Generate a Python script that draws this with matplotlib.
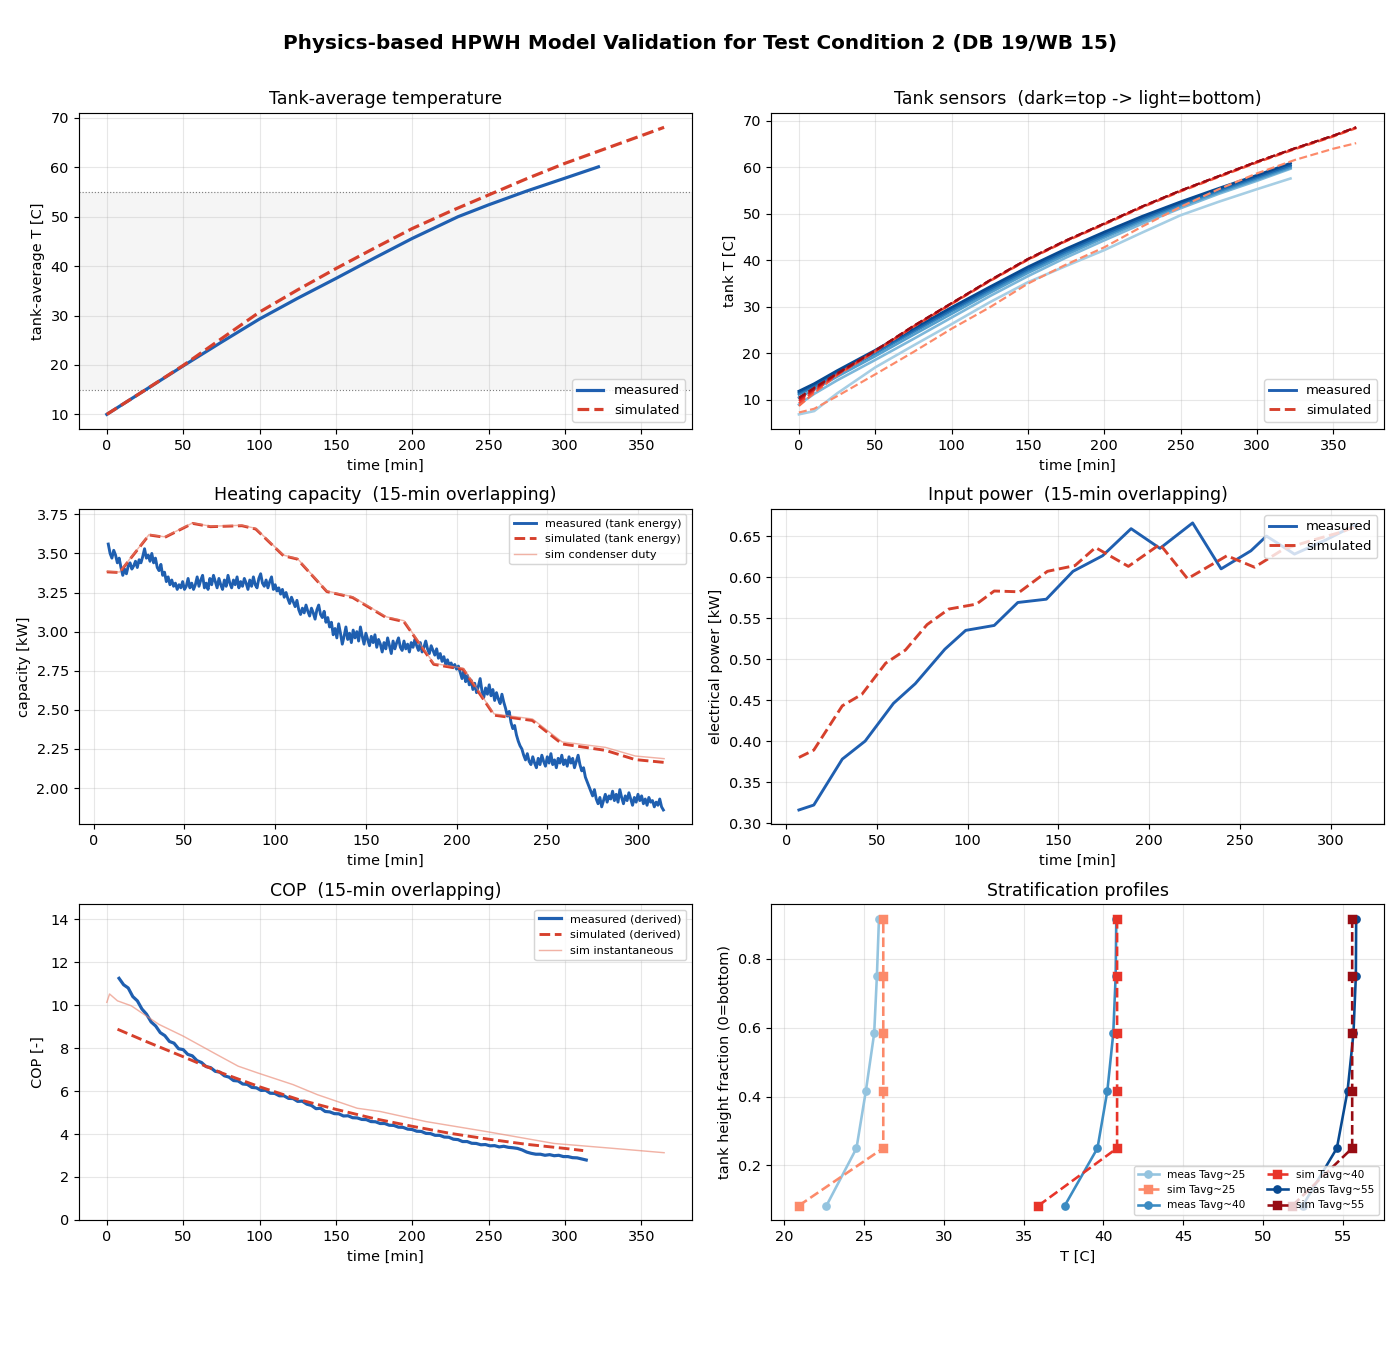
import numpy as np
import matplotlib
matplotlib.use("Agg")
import matplotlib.pyplot as plt
from matplotlib.lines import Line2D

MEAS = "#1f5fb0"
SIM = "#d6402c"

# --- tank-average temperature ---
avg_t_meas = [0, 25, 50, 75, 100, 125, 150, 175, 200, 230, 250, 275, 300, 322]
avg_meas = [10.0, 14.9, 19.8, 24.6, 29.3, 33.5, 37.5, 41.6, 45.6, 50.0, 52.4, 55.2, 57.8, 60.1]
avg_t_sim = [0, 25, 50, 75, 100, 125, 150, 175, 200, 225, 250, 275, 300, 325, 350, 365]
avg_sim = [10.0, 14.9, 19.9, 25.3, 30.7, 35.2, 39.5, 43.6, 47.6, 51.1, 54.4, 57.7, 60.8, 63.6, 66.4, 68.1]

# --- tank sensors (top -> bottom) ---
sens_t_meas = [0, 10, 25, 50, 75, 100, 125, 150, 175, 200, 225, 250, 275, 300, 322]
sens_meas = [
    [11.9, 13.5, 16.3, 20.7, 25.4, 29.9, 34.3, 38.6, 42.5, 46.1, 49.5, 52.6, 55.5, 58.3, 60.9],
    [11.6, 13.2, 16.0, 20.4, 25.0, 29.5, 33.9, 38.2, 42.1, 45.7, 49.1, 52.3, 55.2, 58.0, 60.5],
    [11.2, 12.8, 15.6, 20.0, 24.6, 29.1, 33.5, 37.8, 41.7, 45.3, 48.8, 52.0, 54.9, 57.7, 60.2],
    [10.5, 12.2, 15.0, 19.4, 24.0, 28.5, 33.0, 37.3, 41.2, 44.9, 48.4, 51.6, 54.6, 57.4, 59.9],
    [9.0, 11.3, 14.2, 18.6, 23.1, 27.7, 32.3, 36.6, 40.6, 44.3, 47.9, 51.2, 54.3, 57.1, 59.7],
    [6.9, 7.6, 11.4, 17.0, 21.7, 26.3, 31.0, 35.3, 38.8, 42.2, 46.0, 49.7, 52.6, 55.3, 57.6],
]
sens_t_sim = [0, 10, 25, 50, 75, 100, 125, 150, 175, 200, 225, 250, 275, 300, 325, 350, 365]
sens_sim = [
    [10.5, 12.6, 15.7, 20.6, 25.9, 30.8, 35.7, 40.3, 44.3, 47.9, 51.6, 55.0, 58.1, 61.2, 64.1, 66.8, 68.6],
    [10.2, 12.4, 15.6, 20.6, 25.9, 30.8, 35.7, 40.3, 44.3, 47.9, 51.6, 55.0, 58.1, 61.2, 64.1, 66.8, 68.6],
    [9.8, 12.2, 15.5, 20.5, 25.8, 30.7, 35.6, 40.2, 44.2, 47.9, 51.6, 55.0, 58.1, 61.2, 64.1, 66.8, 68.6],
    [9.3, 11.9, 15.4, 20.5, 25.8, 30.7, 35.6, 40.2, 44.2, 47.8, 51.5, 54.9, 58.0, 61.1, 64.0, 66.7, 68.5],
    [8.7, 11.5, 15.3, 20.4, 25.7, 30.6, 35.5, 40.1, 44.1, 47.7, 51.4, 54.8, 57.9, 61.0, 63.9, 66.6, 68.4],
    [7.3, 8.1, 10.8, 15.5, 20.3, 25.3, 29.9, 35.0, 39.1, 42.8, 47.3, 51.5, 55.3, 58.7, 61.6, 64.0, 65.2],
]

# --- heating capacity (1-min samples, 8..314 min) ---
cap_t_meas = list(range(8, 315))
cap_meas = [
    3.56, 3.50, 3.47, 3.52, 3.49, 3.44, 3.47, 3.41, 3.36, 3.40,
    3.37, 3.42, 3.44, 3.40, 3.42, 3.45, 3.41, 3.46, 3.44, 3.48,
    3.53, 3.47, 3.49, 3.45, 3.50, 3.44, 3.47, 3.41, 3.39, 3.43,
    3.36, 3.38, 3.32, 3.35, 3.30, 3.33, 3.29, 3.31, 3.27, 3.30,
    3.28, 3.32, 3.27, 3.29, 3.34, 3.28, 3.31, 3.27, 3.30, 3.35,
    3.29, 3.33, 3.36, 3.28, 3.31, 3.27, 3.34, 3.30, 3.36, 3.32,
    3.28, 3.34, 3.30, 3.27, 3.33, 3.29, 3.36, 3.31, 3.28, 3.33,
    3.30, 3.35, 3.28, 3.32, 3.29, 3.34, 3.31, 3.27, 3.33, 3.29,
    3.35, 3.30, 3.28, 3.34, 3.37, 3.31, 3.29, 3.33, 3.28, 3.32,
    3.35, 3.27, 3.30, 3.26, 3.28, 3.24, 3.27, 3.22, 3.25, 3.21,
    3.18, 3.22, 3.19, 3.16, 3.20, 3.14, 3.11, 3.15, 3.12, 3.17,
    3.13, 3.10, 3.15, 3.12, 3.08, 3.14, 3.17, 3.11, 3.09, 3.13,
    3.06, 3.09, 3.03, 3.06, 2.98, 3.02, 2.96, 3.05, 2.99, 2.92,
    2.97, 3.03, 2.95, 2.99, 2.93, 3.01, 2.96, 3.00, 2.94, 3.03,
    2.97, 2.92, 2.99, 2.95, 2.91, 2.97, 2.93, 2.98, 2.90, 2.95,
    2.92, 2.87, 2.93, 2.89, 2.96, 2.91, 2.86, 2.94, 2.89, 2.93,
    2.96, 2.90, 2.88, 2.94, 2.89, 2.92, 2.87, 2.93, 2.90, 2.95,
    2.91, 2.88, 2.93, 2.87, 2.90, 2.94, 2.89, 2.86, 2.91, 2.88,
    2.85, 2.89, 2.83, 2.86, 2.81, 2.84, 2.79, 2.82, 2.78, 2.80,
    2.77, 2.79, 2.76, 2.78, 2.74, 2.70, 2.75, 2.68, 2.72, 2.66,
    2.69, 2.63, 2.67, 2.61, 2.65, 2.70, 2.62, 2.58, 2.64, 2.60,
    2.66, 2.59, 2.63, 2.56, 2.61, 2.57, 2.54, 2.60, 2.55, 2.51,
    2.46, 2.49, 2.42, 2.38, 2.40, 2.34, 2.30, 2.27, 2.25, 2.21,
    2.18, 2.22, 2.17, 2.15, 2.20, 2.16, 2.13, 2.19, 2.15, 2.21,
    2.17, 2.14, 2.20, 2.16, 2.22, 2.15, 2.18, 2.13, 2.19, 2.16,
    2.21, 2.15, 2.18, 2.14, 2.20, 2.16, 2.19, 2.13, 2.17, 2.21,
    2.15, 2.11, 2.13, 2.07, 2.04, 2.01, 1.98, 1.95, 1.99, 1.93,
    1.90, 1.94, 1.88, 1.92, 1.96, 1.91, 1.95, 1.93, 1.98, 1.92,
    1.96, 1.91, 1.99, 1.94, 1.90, 1.95, 1.92, 1.97, 1.93, 1.89,
    1.94, 1.91, 1.96, 1.92, 1.95, 1.90, 1.93, 1.89, 1.94, 1.91,
    1.92, 1.88, 1.91, 1.89, 1.93, 1.88, 1.86,
]
cap_t_sim = [7.2, 14.2, 30.5, 39.2, 54.5, 64.3, 81.7, 89.3, 104.6, 112.2, 128.5, 142.7,
             161.2, 171.0, 187.4, 203.7, 220.7, 241.8, 258.2, 282.1, 298.5, 314.4]
cap_sim = [3.382, 3.378, 3.618, 3.603, 3.692, 3.671, 3.677, 3.656, 3.485, 3.464, 3.256, 3.218,
           3.090, 3.064, 2.791, 2.759, 2.466, 2.432, 2.282, 2.241, 2.182, 2.164]
cap_cond = [3.385, 3.381, 3.621, 3.606, 3.695, 3.674, 3.680, 3.660, 3.489, 3.468, 3.260, 3.223,
            3.095, 3.070, 2.797, 2.766, 2.474, 2.442, 2.295, 2.260, 2.205, 2.188]

# --- input power ---
pow_t_meas = [7.0, 15.2, 30.9, 43.5, 59.1, 71.1, 87.4, 98.9, 114.6, 127.6, 143.3, 158.0,
              174.3, 190.0, 205.9, 223.9, 239.6, 256.0, 264.6, 280.0, 297.0, 314.0]
pow_meas = [0.316, 0.322, 0.378, 0.400, 0.446, 0.470, 0.512, 0.535, 0.541, 0.569, 0.573, 0.607,
            0.626, 0.659, 0.635, 0.666, 0.610, 0.632, 0.650, 0.628, 0.645, 0.664]
pow_t_sim = [7.0, 15.2, 30.9, 41.7, 54.8, 65.7, 77.6, 89.6, 104.8, 114.6, 128.7, 143.9,
             159.1, 170.4, 188.5, 205.9, 221.1, 242.8, 258.0, 274.0, 290.0, 306.0, 314.0]
pow_sim = [0.380, 0.389, 0.443, 0.457, 0.495, 0.511, 0.542, 0.561, 0.567, 0.583, 0.582, 0.607,
           0.614, 0.636, 0.613, 0.640, 0.598, 0.626, 0.612, 0.634, 0.645, 0.655, 0.662]

# --- COP ---
cop_t_meas = list(range(8, 315, 3))
cop_meas = [
    11.25, 10.95, 10.80, 10.40, 10.20, 9.82, 9.58, 9.22, 9.03, 8.72,
    8.58, 8.31, 8.23, 7.97, 7.93, 7.71, 7.64, 7.42, 7.33, 7.14,
    7.09, 6.92, 6.88, 6.71, 6.65, 6.49, 6.47, 6.33, 6.31, 6.17,
    6.15, 6.03, 6.04, 5.90, 5.89, 5.78, 5.78, 5.66, 5.65, 5.52,
    5.53, 5.39, 5.33, 5.18, 5.20, 5.05, 5.03, 4.95, 4.94, 4.84,
    4.85, 4.76, 4.75, 4.68, 4.67, 4.58, 4.57, 4.49, 4.49, 4.41,
    4.40, 4.32, 4.31, 4.23, 4.21, 4.13, 4.12, 4.03, 4.02, 3.94,
    3.94, 3.86, 3.85, 3.76, 3.74, 3.65, 3.65, 3.57, 3.56, 3.50,
    3.51, 3.45, 3.46, 3.40, 3.43, 3.38, 3.36, 3.33, 3.26, 3.16,
    3.10, 3.06, 3.06, 3.01, 3.04, 2.99, 3.01, 2.95, 2.95, 2.90,
    2.89, 2.84, 2.79,
]
cop_t_sim = [7, 25, 50, 75, 100, 125, 150, 175, 200, 225, 250, 275, 300, 312]
cop_sim = [8.88, 8.33, 7.60, 6.85, 6.20, 5.62, 5.15, 4.72, 4.36, 4.03, 3.76, 3.52, 3.33, 3.23]
cop_t_inst = [0, 1.8, 7, 16, 34, 50, 72, 86, 99, 122, 138, 164, 179, 209, 249, 293, 332, 365]
cop_inst = [10.13, 10.52, 10.20, 9.97, 9.11, 8.56, 7.70, 7.16, 6.84, 6.30, 5.83, 5.20, 5.05,
            4.58, 4.11, 3.56, 3.33, 3.13]

# --- stratification profiles ---
heights = [1/12, 3/12, 5/12, 7/12, 9/12, 11/12]
prof_labels = ["25", "40", "55"]
prof_meas = [
    [22.64, 24.52, 25.11, 25.63, 25.80, 25.93],
    [37.58, 39.63, 40.25, 40.62, 40.77, 40.81],
    [52.50, 54.64, 55.31, 55.68, 55.83, 55.85],
]
prof_sim = [
    [20.91, 26.20, 26.20, 26.20, 26.20, 26.20],
    [35.93, 40.86, 40.86, 40.86, 40.86, 40.86],
    [51.85, 55.60, 55.60, 55.60, 55.60, 55.60],
]

fig, axs = plt.subplots(3, 2, figsize=(1400 / 104, 1348 / 104), dpi=104)
fig.subplots_adjust(left=0.0564, right=0.9886, top=0.9162, bottom=0.095,
                    wspace=0.129, hspace=0.253)
fig.suptitle("Physics-based HPWH Model Validation for Test Condition 2 (DB 19/WB 15)",
             fontsize=13.85, fontweight="bold", y=0.975)

# 1
ax = axs[0, 0]
ax.axhspan(15, 55, color="grey", alpha=0.08, lw=0)
ax.axhline(15, color="grey", ls=":", lw=0.8)
ax.axhline(55, color="grey", ls=":", lw=0.8)
ax.plot(avg_t_meas, avg_meas, color=MEAS, lw=2.2, label="measured")
ax.plot(avg_t_sim, avg_sim, color=SIM, lw=2.2, ls="--", label="simulated")
ax.set_title("Tank-average temperature")
ax.set_xlabel("time [min]")
ax.set_ylabel("tank-average T [C]")
ax.legend(loc="lower right", fontsize=9.1)
ax.grid(True, alpha=0.3)

# 2
ax = axs[0, 1]
blues = plt.cm.Blues(np.linspace(0.9, 0.35, 6))
reds = plt.cm.Reds(np.linspace(0.9, 0.4, 6))
for i in reversed(range(6)):
    ax.plot(sens_t_meas, sens_meas[i], color=blues[i], lw=1.8)
for i in reversed(range(6)):
    ax.plot(sens_t_sim, sens_sim[i], color=reds[i], lw=1.5, ls="--")
handles = [Line2D([0], [0], color=MEAS, lw=2), Line2D([0], [0], color=SIM, lw=2, ls="--")]
ax.legend(handles, ["measured", "simulated"], loc="lower right", fontsize=9.1)
ax.set_title("Tank sensors  (dark=top -> light=bottom)")
ax.set_xlabel("time [min]")
ax.set_ylabel("tank T [C]")
ax.grid(True, alpha=0.3)

# 3
ax = axs[1, 0]
ax.plot(cap_t_meas, cap_meas, color=MEAS, lw=2, label="measured (tank energy)")
ax.plot(cap_t_sim, cap_sim, color=SIM, lw=2, ls="--", label="simulated (tank energy)")
ax.plot(cap_t_sim, cap_cond, color="#e8806a", lw=1, alpha=0.6, label="sim condenser duty")
ax.set_title("Heating capacity  (15-min overlapping)")
ax.set_xlabel("time [min]")
ax.set_ylabel("capacity [kW]")
ax.legend(loc="upper right", fontsize=7.8)
ax.grid(True, alpha=0.3)

# 4
ax = axs[1, 1]
ax.plot(pow_t_meas, pow_meas, color=MEAS, lw=2, label="measured")
ax.plot(pow_t_sim, pow_sim, color=SIM, lw=2, ls="--", label="simulated")
ax.set_title("Input power  (15-min overlapping)")
ax.set_xlabel("time [min]")
ax.set_ylabel("electrical power [kW]")
ax.legend(loc="upper right", fontsize=9.1)
ax.grid(True, alpha=0.3)

# 5
ax = axs[2, 0]
ax.plot(cop_t_meas, cop_meas, color=MEAS, lw=2.2, label="measured (derived)")
ax.plot(cop_t_sim, cop_sim, color=SIM, lw=2, ls="--", label="simulated (derived)")
ax.plot(cop_t_inst, cop_inst, color="#e8806a", lw=1, alpha=0.6, label="sim instantaneous")
ax.set_ylim(0, 14.7)
ax.set_title("COP  (15-min overlapping)")
ax.set_xlabel("time [min]")
ax.set_ylabel("COP [-]")
ax.legend(loc="upper right", fontsize=7.8)
ax.grid(True, alpha=0.3)

# 6
ax = axs[2, 1]
mcol = plt.cm.Blues([0.4, 0.65, 0.9])
scol = plt.cm.Reds([0.4, 0.65, 0.9])
for i in range(3):
    ax.plot(prof_meas[i], heights, "-o", color=mcol[i], lw=1.8, ms=5,
            label="meas Tavg~" + prof_labels[i])
    ax.plot(prof_sim[i], heights, "--s", color=scol[i], lw=1.8, ms=6,
            label="sim Tavg~" + prof_labels[i])
ax.set_title("Stratification profiles")
ax.set_xlabel("T [C]")
ax.set_ylabel("tank height fraction (0=bottom)")
ax.legend(loc="lower right", fontsize=7.3, ncol=2)
ax.grid(True, alpha=0.3)

fig.savefig("out.png", dpi=104)
